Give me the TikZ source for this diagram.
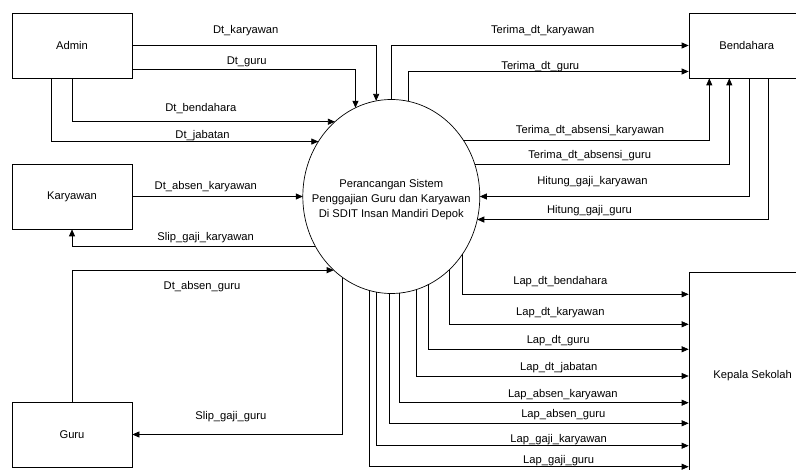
\documentclass[tikz,border=0pt]{standalone}
\usepackage{fontspec}
\setmainfont{Liberation Sans}
\usepackage{tikz}
\usetikzlibrary{calc,shapes,arrows.meta}

\begin{document}
\begin{tikzpicture}[x=1pt, y=-1pt, line width=0.7pt,
		font=\fontsize{11.2}{15}\selectfont,
		>={Triangle[length=7pt, width=6pt]},
		box/.style={draw, minimum width=120pt, minimum height=65pt, inner sep=0pt},
		proc/.style={draw, ellipse, minimum width=177pt, minimum height=194pt, inner sep=0pt, outer sep=0pt},
		lbl/.style={anchor=base}]
		\path[use as bounding box, clip] (0, 0) rectangle (796, 470);

		\draw (72, 45.5) node[box] (adm) {Admin};
		\draw (72, 196.5) node[box] (kar) {Karyawan};
		\draw (72, 434.5) node[box] (gur) {Guru};
		\draw (746.7, 45.5) node[box, minimum width=115.4pt] (ben) {Bendahara};
		\draw (752.7, 376) node[box, minimum width=127.4pt, minimum height=206.6pt] (kep) {Kepala Sekolah};
		\draw (391.3, 196.5) node[proc] (el) {};
		\draw (391.3, 199.5) node[align=center] (elt) {Perancangan Sistem\\Penggajian Guru dan Karyawan\\Di SDIT Insan Mandiri Depok};

		% admin
		\draw[->] (adm.east) -| (el.99.6);
		\draw[->] (adm.east |- 0, 69.3) -| (el.112.3);
		\draw[->] (adm.south) |- (el.127.9);
		\draw[->] (adm.south -| 51.7, 0) |- (el.143.8);
		\draw (245.7, 33.5) node[lbl] (ldk) {Dt\_karyawan};
		\draw (246.7, 65) node[lbl] (ldg) {Dt\_guru};
		\draw (200.8, 111.7) node[lbl] (ldb) {Dt\_bendahara};
		\draw (202.5, 138.3) node[lbl] (ldj) {Dt\_jabatan};

		% bendahara
		\draw[->] (el.90) |- (ben.west);
		\draw[->] (el.80.5) |- (ben.west |- 0, 71.5);
		\draw[->] (el.38.2) -| (ben.south -| 709.3, 0);
		\draw[->] (el.21.1) -| (ben.south -| 729.3, 0);
		\draw[->] (ben.south -| 749, 0) |- (el.east);
		\draw[->] (ben.south -| 768.3, 0) |- (el.345.2);
		\draw (542.8, 34) node[lbl] (ltk) {Terima\_dt\_karyawan};
		\draw (540.3, 69.3) node[lbl] (ltg) {Terima\_dt\_guru};
		\draw (590, 134) node[lbl] (ltak) {Terima\_dt\_absensi\_karyawan};
		\draw (589.7, 159) node[lbl] (ltag) {Terima\_dt\_absensi\_guru};
		\draw (592.5, 185) node[lbl] (lhk) {Hitung\_gaji\_karyawan};
		\draw (589.5, 213.3) node[lbl] (lhg) {Hitung\_gaji\_guru};

		% karyawan, guru
		\draw[->] (kar) -- (el);
		\draw[->] (el.213.6) -| (kar.south);
		\draw[->] (gur.north) |- (el.232.7);
		\draw[->] (el.239.5) |- (gur.east);
		\draw (205.8, 189.3) node[lbl] (lak) {Dt\_absen\_karyawan};
		\draw (205.7, 240.7) node[lbl] (lsk) {Slip\_gaji\_karyawan};
		\draw (202, 290) node[lbl] (lag) {Dt\_absen\_guru};
		\draw (230.8, 419.3) node[lbl] (lsg) {Slip\_gaji\_guru};

		% kepala sekolah
		\draw[->] (el.321.9) |- (kep.west |- 0, 294.3);
		\draw[->] (el.308.4) |- (kep.west |- 0, 324.3);
		\draw[->] (el.293.9) |- (kep.west |- 0, 349.3);
		\draw[->] (el.285.9) |- (kep.west |- 0, 376);
		\draw[->] (el.275.7) |- (kep.west |- 0, 402.7);
		\draw[->] (el.269.6) |- (kep.west |- 0, 423.3);
		\draw[->] (el.261.9) |- (kep.west |- 0, 445.7);
		\draw[->] (el.257.7) |- (kep.west |- 0, 466.7);
		\draw (560.3, 285) node[lbl] (llb) {Lap\_dt\_bendahara};
		\draw (560.3, 315.7) node[lbl] (llk) {Lap\_dt\_karyawan};
		\draw (558.2, 344) node[lbl] (llg) {Lap\_dt\_guru};
		\draw (558.7, 371) node[lbl] (llj) {Lap\_dt\_jabatan};
		\draw (562.8, 397.3) node[lbl] (llak) {Lap\_absen\_karyawan};
		\draw (563.3, 417.3) node[lbl] (llag) {Lap\_absen\_guru};
		\draw (558.7, 442.3) node[lbl] (llgk) {Lap\_gaji\_karyawan};
		\draw (558.7, 463.3) node[lbl] (llgg) {Lap\_gaji\_guru};
	\end{tikzpicture}
\end{document}
